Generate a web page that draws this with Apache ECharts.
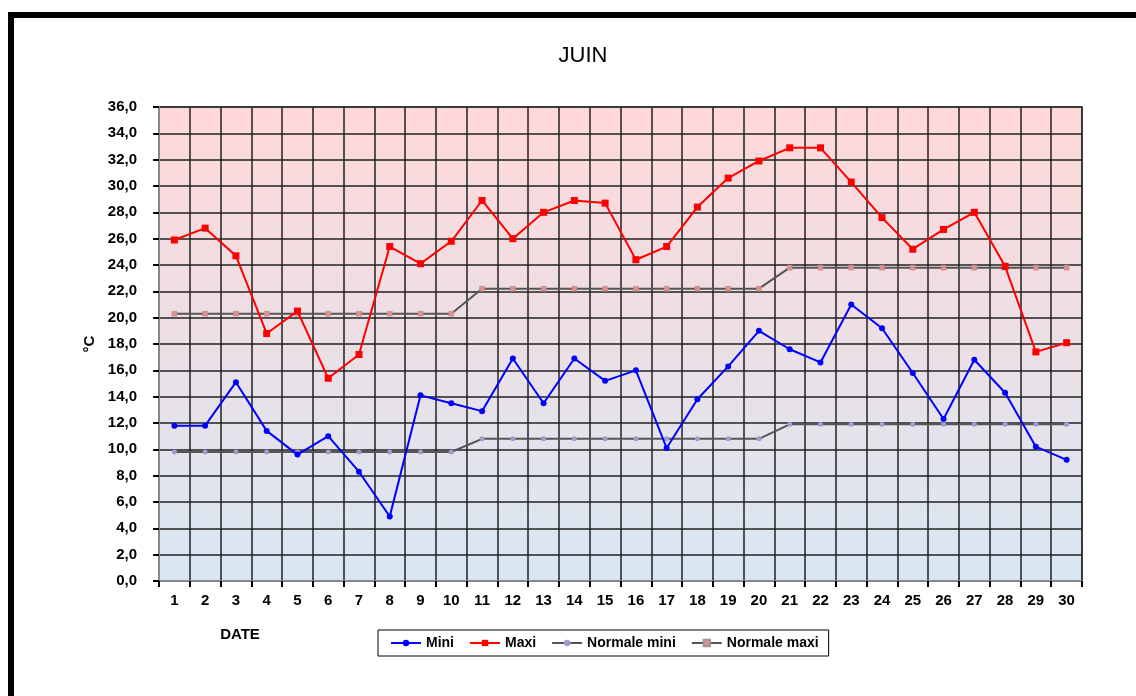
<!DOCTYPE html>
<html>
<head>
<meta charset="utf-8">
<script src="https://cdn.jsdelivr.net/npm/echarts@6/dist/echarts.min.js"></script>
<style>
  html, body { margin: 0; padding: 0; background: #fff; }
  #chart { width: 1136px; height: 696px; }
</style>
</head>
<body>
<div id="chart"></div>
<script>
const days = ['1','2','3','4','5','6','7','8','9','10','11','12','13','14','15','16','17','18','19','20','21','22','23','24','25','26','27','28','29','30'];
const mini = [11.8,11.8,15.1,11.4,9.6,11.0,8.3,4.9,14.1,13.5,12.9,16.9,13.5,16.9,15.2,16.0,10.1,13.8,16.3,19.0,17.6,16.6,21.0,19.2,15.8,12.3,16.8,14.3,10.2,9.2];
const maxi = [25.9,26.8,24.7,18.8,20.5,15.4,17.2,25.4,24.1,25.8,28.9,26.0,28.0,28.9,28.7,24.4,25.4,28.4,30.6,31.9,32.9,32.9,30.3,27.6,25.2,26.7,28.0,23.9,17.4,18.1];
const normaleMini = [9.8,9.8,9.8,9.8,9.8,9.8,9.8,9.8,9.8,9.8,10.8,10.8,10.8,10.8,10.8,10.8,10.8,10.8,10.8,10.8,11.9,11.9,11.9,11.9,11.9,11.9,11.9,11.9,11.9,11.9];
const normaleMaxi = [20.3,20.3,20.3,20.3,20.3,20.3,20.3,20.3,20.3,20.3,22.2,22.2,22.2,22.2,22.2,22.2,22.2,22.2,22.2,22.2,23.8,23.8,23.8,23.8,23.8,23.8,23.8,23.8,23.8,23.8];
const seriesNames = ['Mini','Maxi','Normale mini','Normale maxi'];
const titleText = 'JUIN';
const yName = '°C';
const xName = 'DATE';

const FONT = "'Liberation Sans', Arial, sans-serif";
const chart = echarts.init(document.getElementById('chart'));
chart.setOption({
  animation: false,
  backgroundColor: '#fff',
  title: {
    text: titleText, left: 583, top: 45, textAlign: 'center', padding: 0,
    textStyle: { fontFamily: FONT, fontSize: 22, fontWeight: 'normal', color: '#000' }
  },
  graphic: [
    { type: 'rect', silent: true, z: 100,
      shape: { x: 11, y: 15, width: 1600, height: 1200 },
      style: { fill: 'none', stroke: '#000', lineWidth: 6 } },
    { type: 'text', silent: true, x: 240, y: 635,
      style: { text: xName, fill: '#000', font: 'bold 15px ' + FONT, align: 'center', verticalAlign: 'middle' } }
  ],
  legend: {
    data: seriesNames,
    left: 378, top: 630,
    padding: [6, 10, 6, 12],
    itemWidth: 30, itemHeight: 8, itemGap: 15,
    borderColor: '#000', borderWidth: 1,
    textStyle: { fontFamily: FONT, fontSize: 14, fontWeight: 'bold', color: '#000' }
  },
  grid: {
    left: 159, right: 54, top: 107, bottom: 115,
    show: true,
    borderColor: '#888', borderWidth: 2,
    backgroundColor: { type: 'linear', x: 0, y: 0, x2: 0, y2: 1,
      colorStops: [{ offset: 0, color: '#FFD8D8' }, { offset: 1, color: '#D8E7F3' }] }
  },
  xAxis: {
    type: 'category', data: days, boundaryGap: true,
    axisLine: { lineStyle: { color: '#888', width: 2 } },
    axisTick: { show: true, length: 6, lineStyle: { color: '#000', width: 2 } },
    axisLabel: { margin: 12, interval: 0, fontFamily: FONT, fontSize: 15, fontWeight: 'bold', color: '#000' },
    splitLine: { show: true, interval: 0, lineStyle: { color: '#222', width: 1.5 } }
  },
  yAxis: {
    type: 'value', min: 0, max: 36, interval: 2,
    name: yName, nameLocation: 'middle', nameGap: 62, nameRotate: 90,
    nameTextStyle: { fontFamily: FONT, fontSize: 15, fontWeight: 'bold', color: '#000' },
    axisLine: { show: true, lineStyle: { color: '#888', width: 2 } },
    axisTick: { show: true, length: 6, lineStyle: { color: '#000', width: 2 } },
    axisLabel: { margin: 22, fontFamily: FONT, fontSize: 15, fontWeight: 'bold', color: '#000',
      formatter: v => v.toFixed(1).replace('.', ',') },
    splitLine: { show: true, lineStyle: { color: '#222', width: 1.5 } }
  },
  series: [
    { name: 'Normale mini', type: 'line', data: normaleMini, z: 2,
      symbol: 'circle', symbolSize: 5,
      itemStyle: { color: '#9C9CD0' },
      lineStyle: { color: '#555', width: 2 } },
    { name: 'Normale maxi', type: 'line', data: normaleMaxi, z: 2,
      symbol: 'rect', symbolSize: 5,
      itemStyle: { color: '#E88C8C', borderColor: '#999', borderWidth: 0.5 },
      lineStyle: { color: '#555', width: 2 } },
    { name: 'Mini', type: 'line', data: mini, z: 3,
      symbol: 'circle', symbolSize: 6,
      itemStyle: { color: '#0000FF' },
      lineStyle: { color: '#0000FF', width: 2 } },
    { name: 'Maxi', type: 'line', data: maxi, z: 3,
      symbol: 'rect', symbolSize: 7,
      itemStyle: { color: '#FF0000' },
      lineStyle: { color: '#FF0000', width: 2 } }
  ]
});
</script>
</body>
</html>
